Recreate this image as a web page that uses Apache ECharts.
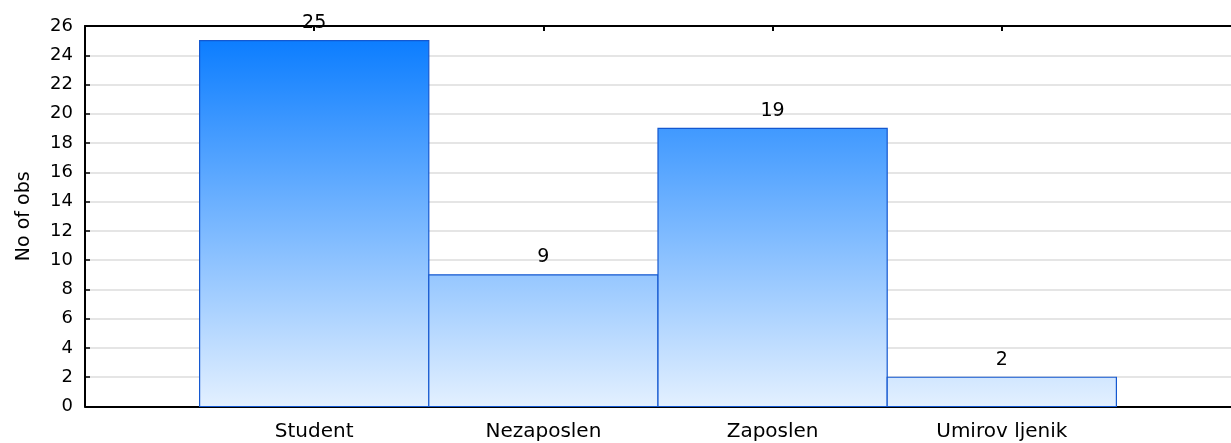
<!DOCTYPE html>
<html>
<head>
<meta charset="utf-8">
<script src="https://cdn.jsdelivr.net/npm/echarts@6/dist/echarts.min.js"></script>
<style>
html,body{margin:0;padding:0;background:#fff;}
#chart{width:1231px;height:443px;}
</style>
</head>
<body>
<div id="chart"></div>
<script>
const categories = ['Student', 'Nezaposlen', 'Zaposlen', 'Umirov ljenik'];
const counts = [25, 9, 19, 2];
const positions = [1, 2, 3, 4];
const yAxisName = 'No of obs';

const FONT = 'DejaVu Sans';
const chart = echarts.init(document.getElementById('chart'));

const barData = positions.map((p, i) => [p, counts[i]]);

function labelFor(v) {
  const idx = positions.indexOf(v);
  return idx >= 0 ? categories[idx] : '';
}

chart.setOption({
  animation: false,
  backgroundColor: '#fff',
  grid: { left: 85, top: 26, right: -9, bottom: 36.5, containLabel: false },
  xAxis: [
    {
      type: 'value', min: 0, max: 5, interval: 1, position: 'bottom',
      axisLine: { show: true, lineStyle: { color: '#000', width: 2 } },
      axisTick: { show: true, inside: true, length: 5, lineStyle: { color: '#000', width: 2 },
                  customValues: positions },
      axisLabel: { show: true, customValues: positions, formatter: labelFor, color: '#000', fontFamily: FONT, fontSize: 20, margin: 15 },
      splitLine: { show: false }
    },
    {
      type: 'value', min: 0, max: 5, interval: 1, position: 'top',
      axisLine: { show: true, onZero: false, lineStyle: { color: '#000', width: 2 } },
      axisTick: { show: true, inside: true, length: 5, lineStyle: { color: '#000', width: 2 },
                  customValues: positions },
      axisLabel: { show: false },
      splitLine: { show: false }
    }
  ],
  yAxis: {
    type: 'value', min: 0, max: 26, interval: 2,
    name: yAxisName, nameLocation: 'middle', nameGap: 51, nameRotate: 90,
    nameTextStyle: { color: '#000', fontFamily: FONT, fontSize: 19 },
    axisLine: { show: true, onZero: false, lineStyle: { color: '#000', width: 2 } },
    axisTick: { show: true, inside: true, length: 5, lineStyle: { color: '#000', width: 1.5 } },
    axisLabel: { color: '#000', fontFamily: FONT, fontSize: 18, margin: 12 },
    splitLine: { show: true, lineStyle: { color: '#dcdcdc', width: 1.5 } }
  },
  series: [{
    type: 'custom',
    xAxisIndex: 0,
    data: barData,
    clip: false,
    renderItem: function (params, api) {
      const x = api.value(0), v = api.value(1);
      const p1 = api.coord([x - 0.5, v]);
      const p2 = api.coord([x + 0.5, 0]);
      const gTop = api.coord([0, 26])[1];
      const gBot = api.coord([0, 0])[1];
      const fill = new echarts.graphic.LinearGradient(0, gTop, 0, gBot, [
        { offset: 0, color: '#0479ff' },
        { offset: 1, color: '#e3f0ff' }
      ], true);
      return {
        type: 'group',
        children: [
          {
            type: 'rect',
            shape: { x: p1[0], y: p1[1], width: p2[0] - p1[0], height: p2[1] - p1[1] },
            style: { fill: fill, stroke: '#1458d0', lineWidth: 1.2 }
          },
          {
            type: 'text',
            style: {
              text: String(v), x: (p1[0] + p2[0]) / 2, y: p1[1] - 8,
              align: 'center', verticalAlign: 'bottom',
              fill: '#000', font: '19px "' + FONT + '"'
            }
          }
        ]
      };
    }
  }]
});
</script>
</body>
</html>
